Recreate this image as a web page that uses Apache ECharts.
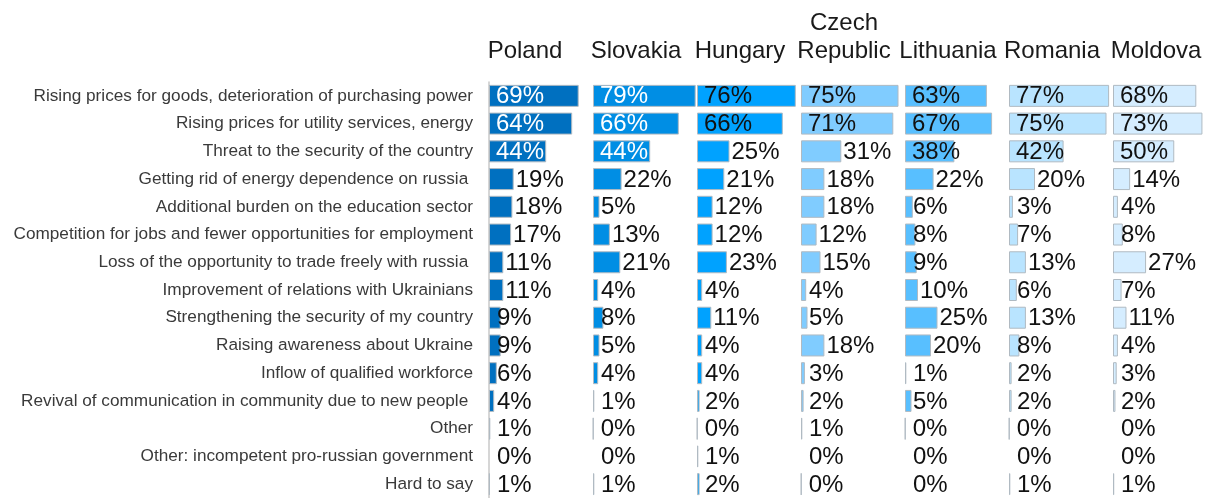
<!DOCTYPE html>
<html>
<head>
<meta charset="utf-8">
<script src="https://cdn.jsdelivr.net/npm/echarts@6/dist/echarts.min.js"></script>
<style>
  html, body { margin: 0; padding: 0; background: #fff; }
  #chart { width: 1211px; height: 498px; }
</style>
</head>
<body>
<div id="chart"></div>
<script>
// Perceived effects of hosting Ukrainian refugees, share of respondents by country (%)
const categories = [
  'Rising prices for goods, deterioration of purchasing power',
  'Rising prices for utility services, energy',
  'Threat to the security of the country',
  'Getting rid of energy dependence on russia ',
  'Additional burden on the education sector',
  'Competition for jobs and fewer opportunities for employment',
  'Loss of the opportunity to trade freely with russia ',
  'Improvement of relations with Ukrainians',
  'Strengthening the security of my country',
  'Raising awareness about Ukraine',
  'Inflow of qualified workforce',
  'Revival of communication in community due to new people ',
  'Other',
  'Other: incompetent pro-russian government',
  'Hard to say'
];

const countries = ['Poland', 'Slovakia', 'Hungary', 'Czech\nRepublic', 'Lithuania', 'Romania', 'Moldova'];

const poland    = [69, 64, 44, 19, 18, 17, 11, 11, 9, 9, 6, 4, 1, 0, 0.6];
const slovakia  = [79, 66, 44, 22, 5, 13, 21, 4, 8, 5, 4, 1, 0.3, 0, 1];
const hungary   = [76, 66, 25, 21, 12, 12, 23, 4, 11, 4, 4, 2, 0.3, 1, 2];
const czech     = [75, 71, 31, 18, 18, 12, 15, 4, 5, 18, 3, 2, 1, 0, 0.3];
const lithuania = [63, 67, 38, 22, 6, 8, 9, 10, 25, 20, 1, 5, 0.3, 0, 0];
const romania   = [77, 75, 42, 20, 3, 7, 13, 6, 13, 8, 2, 2, 0.3, 0, 1];
const moldova   = [68, 73, 50, 14, 4, 8, 27, 7, 11, 4, 3, 2, 0, 0, 1];

const seriesValues = [poland, slovakia, hungary, czech, lithuania, romania, moldova];
const colors = ['#0070C0', '#008EE4', '#00A2FF', '#80CCFF', '#58BFFF', '#B9E4FF', '#D5EDFF'];
const insideLabelColors = ['#ffffff', '#ffffff', '#111111', '#111111', '#111111', '#111111', '#111111'];

const panelLeft = 489, panelStep = 104, panelWidth = 104;
const plotTop = 82, plotHeight = 419;
const labelFont = 'Liberation Sans, Arial, sans-serif';

const grids = [], xAxes = [], yAxes = [], series = [], titles = [];

seriesValues.forEach((vals, i) => {
  const left = panelLeft + i * panelStep;
  grids.push({ left: left, top: plotTop, width: panelWidth, height: plotHeight, containLabel: false });
  xAxes.push({ gridIndex: i, type: 'value', min: 0, max: 80, show: false });
  yAxes.push({
    gridIndex: i,
    type: 'category',
    data: categories,
    inverse: true,
    axisLine: { show: i === 0, lineStyle: { color: '#c8c8c8', width: 1.5 } },
    axisTick: { show: false },
    axisLabel: {
      show: i === 0,
      margin: 16,
      fontFamily: labelFont,
      fontSize: 17.2,
      color: '#3a3a3a'
    }
  });

  const data = vals.map(v => {
    let label;
    if (v >= 35) {
      label = { position: 'insideLeft', distance: 7, color: insideLabelColors[i] };
    } else if (v < 10) {
      label = { position: 'insideLeft', distance: 8, color: '#111111' };
    } else {
      label = { position: 'right', distance: 2, color: '#111111' };
    }
    return {
      value: v,
      label: label,
      itemStyle: { borderWidth: v > 0 ? 1 : 0 }
    };
  });

  series.push({
    type: 'bar',
    xAxisIndex: i,
    yAxisIndex: i,
    data: data,
    barWidth: 22,
    itemStyle: { color: colors[i], borderColor: '#b0bac2', borderWidth: 1 },
    label: {
      show: true,
      fontFamily: labelFont,
      fontSize: 24,
      offset: [0, 1],
      formatter: p => Math.round(p.value) + '%'
    },
    emphasis: { disabled: true },
    silent: true,
    animation: false
  });

  // Country names, bottom-aligned so two-line names grow upward
  titles.push({
    type: 'text',
    x: left + (i === 0 ? 36 : 43),
    y: 65,
    silent: true,
    style: {
      text: countries[i],
      align: 'center',
      verticalAlign: 'bottom',
      fontFamily: labelFont,
      fontSize: 24,
      lineHeight: 28,
      fill: '#1a1a1a'
    }
  });
});

const chart = echarts.init(document.getElementById('chart'), null, { renderer: 'canvas' });
chart.setOption({
  backgroundColor: '#ffffff',
  animation: false,
  grid: grids,
  xAxis: xAxes,
  yAxis: yAxes,
  series: series,
  graphic: titles
});
</script>
</body>
</html>
